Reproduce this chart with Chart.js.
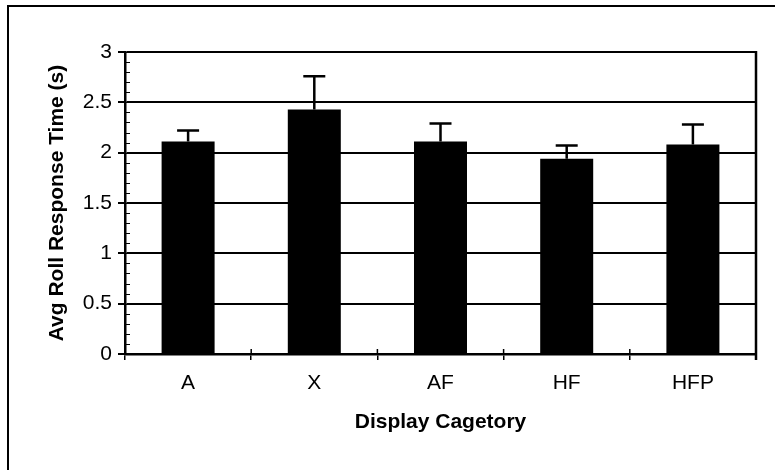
<!DOCTYPE html>
<html>
<head>
<meta charset="utf-8">
<script src="https://cdn.jsdelivr.net/npm/chart.js@4"></script>
<style>
  html, body { margin: 0; padding: 0; background: #fff; }
  #wrap { position: relative; width: 775px; height: 470px; overflow: hidden; }
  #frame { position: absolute; left: 7px; top: 5px; width: 800px; height: 500px;
           border-left: 2px solid #000; border-top: 2px solid #000; }
  canvas { position: absolute; left: 0; top: 0; }
</style>
</head>
<body>
<div id="wrap">
  <div id="frame"></div>
  <canvas id="c" width="775" height="470"></canvas>
</div>
<script>
const categories = ['A', 'X', 'AF', 'HF', 'HFP'];
const meanValues = [2.11, 2.43, 2.11, 1.94, 2.08];
const errorTops  = [2.22, 2.76, 2.29, 2.07, 2.28];
const yTickValues = [0, 0.5, 1, 1.5, 2, 2.5, 3];
const yMinorStep = 0.1;

const FONT = "'Liberation Sans', Arial, sans-serif";

const decor = {
  id: 'decor',
  afterDatasetsDraw(chart) {
    const ctx = chart.ctx;
    const y = chart.scales.y;
    const x = chart.scales.x;
    const area = chart.chartArea;
    const meta = chart.getDatasetMeta(0);
    ctx.save();
    ctx.strokeStyle = '#000';
    // error bars
    ctx.lineWidth = 2.5;
    meta.data.forEach((bar, i) => {
      const yTop = y.getPixelForValue(errorTops[i]);
      const yBar = y.getPixelForValue(meanValues[i]);
      ctx.beginPath();
      ctx.moveTo(bar.x, yBar);
      ctx.lineTo(bar.x, yTop);
      ctx.moveTo(bar.x - 11, yTop);
      ctx.lineTo(bar.x + 11, yTop);
      ctx.stroke();
    });
    // right border of plot area
    ctx.lineWidth = 2.5;
    ctx.beginPath();
    ctx.moveTo(area.right, area.top - 1);
    ctx.lineTo(area.right, area.bottom + 6);
    ctx.stroke();
    // minor ticks inside left axis
    ctx.lineWidth = 1;
    const n = Math.round((y.max - y.min) / yMinorStep);
    for (let k = 0; k <= n; k++) {
      const py = Math.round(y.getPixelForValue(y.min + k * yMinorStep)) + 0.5;
      ctx.beginPath();
      ctx.moveTo(area.left, py);
      ctx.lineTo(area.left + 5, py);
      ctx.stroke();
    }
    // x category boundary ticks poking above the axis
    ctx.lineWidth = 1.5;
    for (let i = 1; i < categories.length; i++) {
      const px = (x.getPixelForValue(i - 1) + x.getPixelForValue(i)) / 2;
      ctx.beginPath();
      ctx.moveTo(px, area.bottom);
      ctx.lineTo(px, area.bottom - 5);
      ctx.stroke();
    }
    ctx.restore();
  }
};

new Chart(document.getElementById('c'), {
  type: 'bar',
  data: {
    labels: categories,
    datasets: [{
      data: meanValues,
      backgroundColor: '#000',
      borderWidth: 0,
      barPercentage: 0.42,
      categoryPercentage: 1.0
    }]
  },
  options: {
    responsive: false,
    animation: false,
    events: [],
    layout: { padding: { left: 9, top: 52, right: 19, bottom: 20 } },
    plugins: { legend: { display: false }, tooltip: { enabled: false } },
    scales: {
      x: {
        offset: true,
        grid: { display: true, offset: true, drawOnChartArea: false, color: '#000', lineWidth: 1.5, tickLength: 6 },
        border: { display: true, color: '#000', width: 2.5 },
        ticks: { color: '#000', font: { family: FONT, size: 21 }, padding: 11, maxRotation: 0 },
        title: { display: true, text: 'Display Cagetory', color: '#000',
                 font: { family: FONT, size: 21, weight: 'bold' }, padding: { top: 0, bottom: 15 } },
        afterFit(s) { s.height = 96; }
      },
      y: {
        min: 0, max: 3,
        afterBuildTicks(s) { s.ticks = yTickValues.map(v => ({ value: v })); },
        grid: { color: '#000', lineWidth: 2, tickLength: 7 },
        border: { display: true, color: '#000', width: 2.5 },
        ticks: { color: '#000', font: { family: FONT, size: 21 }, padding: 6,
                 callback: v => String(v) },
        title: { display: true, text: 'Avg Roll Response Time (s)', color: '#000',
                 font: { family: FONT, size: 21, weight: 'bold' }, padding: { top: 36, bottom: 0 } },
        afterFit(s) { s.width = 116; }
      }
    }
  },
  plugins: [decor]
});
</script>
</body>
</html>
